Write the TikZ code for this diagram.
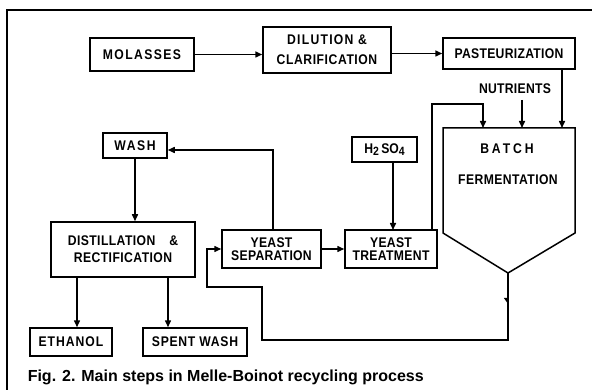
\documentclass[tikz,border=0pt]{standalone}
\usepackage{fontspec}
\setmainfont{Liberation Sans}
\newfontfamily\lbl{Liberation Sans}[FakeStretch=0.87]
\newcommand\ls[1]{\addfontfeature{LetterSpace=#1}}
\usetikzlibrary{arrows.meta,calc}
\begin{document}
\begin{tikzpicture}[x=1pt,y=-1pt,
  line width=1.5pt,
  box/.style={draw,rectangle,inner sep=0pt,align=center,font=\lbl\bfseries\fontsize{14}{13.5}\selectfont},
  arr/.style={-{Triangle[length=7pt,width=6pt]}},
  lbltext/.style={inner sep=0pt,font=\lbl\bfseries\fontsize{14}{14}\selectfont}]
\useasboundingbox (0,0) rectangle (592,390);
% frame
\draw[line width=1.3pt] (592,10) -- (7,10) -- (7,390);
% boxes
\node[box,minimum width=104pt,minimum height=33pt] (molasses) at (142,54.5) {\ls{10}MOLASSES};
\node[box,minimum width=128pt,minimum height=46pt,font=\lbl\bfseries\fontsize{14}{20}\selectfont] (dilution) at (327,50) {\ls{9}DILUTION \&\\\ls{4}CLARIFICATION};
\node[box,minimum width=132pt,minimum height=31pt] (pasteur) at (509,53.5) {\ls{2}PASTEURIZATION};
\node[box,minimum width=65pt,minimum height=25pt] (h2so4) at (384.5,149.5) {H\raisebox{-2.5pt}{\fontsize{12}{12}\selectfont 2}\,SO\raisebox{-2.5pt}{\fontsize{12}{12}\selectfont 4}};
\node[box,minimum width=64pt,minimum height=25pt] (wash) at (135,145.5) {\ls{11}WASH};
\node[box,minimum width=99pt,minimum height=38pt] (sep) at (271.5,249) {\ls{2}YEAST\\\ls{2}SEPARATION};
\node[box,minimum width=92pt,minimum height=38pt] (treat) at (391,249) {\ls{2}YEAST\\\ls{2.5}TREATMENT};
\node[box,minimum width=144pt,minimum height=55pt,font=\lbl\bfseries\fontsize{14}{17}\selectfont] (dist) at (123,249.5) {\ls{3}DISTILLATION\hspace{14pt}\&\\\ls{3}RECTIFICATION};
\node[box,minimum width=82pt,minimum height=28pt] (ethanol) at (71,342) {\ls{7}ETHANOL};
\node[box,minimum width=104pt,minimum height=28pt] (spent) at (195,342) {\ls{5}SPENT WASH};
% batch tank
\coordinate (btl) at (443,128);
\coordinate (btr) at (575,128);
\coordinate (bbl) at (443,233);
\coordinate (bbr) at (575,233);
\coordinate (tip) at (508,273);
\draw[line join=miter] (btl) -- (btr) -- (bbr) -- (tip) -- (bbl) -- cycle;
\node[lbltext] (batchlbl) at (507,149) {\ls{21}BATCH};
\node[lbltext] (fermlbl) at (508,180) {\ls{3}FERMENTATION};
\node[lbltext] (nutr) at (515,89) {\ls{2}NUTRIENTS};
% connectors
\draw[arr] (molasses.east) -- (molasses.east -| dilution.west);
\draw[arr] (dilution.east |- pasteur.west) -- (pasteur.west);
\coordinate (pdown) at (562,69);
\draw[arr] (pdown) -- (pdown |- btl);
\coordinate (ntop) at (522,100);
\draw[arr] (ntop) -- (ntop |- btl);
\coordinate (loopA) at (432,230);
\coordinate (loopB) at (432,104);
\coordinate (loopC) at (483,104);
\draw[arr] (loopA) -- (loopB) -- (loopC) -- (loopC |- btl);
\draw[arr] (h2so4.south -| 393,0) -- (393,230);
\draw[arr] (sep.east) -- (treat.west);
\coordinate (sepup) at (273,230);
\coordinate (sepcorner) at (273,150);
\draw[arr] (sepup) -- (sepcorner) -- (sepcorner -| wash.east);
\draw[arr] (wash.south) -- (wash.south |- dist.north);
\coordinate (e1) at (77,277);
\coordinate (e2) at (168,277);
\draw[arr] (e1) -- (e1 |- ethanol.north);
\draw[arr] (e2) -- (e2 |- spent.north);
% return line
\coordinate (r1) at (508,340);
\coordinate (r2) at (262,340);
\coordinate (r3) at (262,287);
\coordinate (r4) at (207,287);
\coordinate (r5) at (207,249);
\draw[-{Triangle[right,length=6pt,width=8pt]}] (tip) -- (508,305);
\draw (508,300) -- (r1) -- (r2) -- (r3) -- (r4) -- (r5) [arr] -- (r5 -| sep.west);
% caption
\node[anchor=west,inner sep=0pt,font=\bfseries\fontsize{16}{18}\selectfont] (cap) at (27,377) {Fig. 2. Main steps in Melle-Boinot recycling process};
\end{tikzpicture}
\end{document}
